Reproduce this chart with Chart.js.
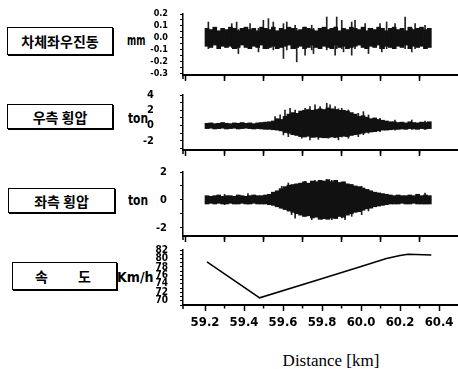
<!DOCTYPE html>
<html>
<head>
<meta charset="utf-8">
<script src="https://cdn.jsdelivr.net/npm/chart.js@4/dist/chart.umd.min.js"></script>
<style>
  body { margin: 0; background: #fff; width: 458px; height: 369px; overflow: hidden; position: relative; }
  canvas { position: absolute; left: 0; }
  .box { position: absolute; border: 1.5px solid #000; box-shadow: 1px 1px 0 #000;
         font: bold 14px "Noto Sans CJK KR", sans-serif; color: #000;
         display: flex; align-items: center; justify-content: center; box-sizing: border-box; }
  .unit { position: absolute; font: bold 14px "DejaVu Sans Condensed", "Liberation Sans Narrow", "Liberation Sans", sans-serif; color: #000;
          line-height: 14px; transform-origin: left center; }
  .xtitle { position: absolute; left: 0; width: 662px; top: 351px; text-align: center;
            font: 17px "Liberation Serif", serif; color: #000; }
</style>
</head>
<body>
<div class="box" style="left:7px;top:27px;width:106px;height:28px;">차체좌우진동</div>
<div class="box" style="left:7px;top:104px;width:106px;height:25px;">우측 횡압</div>
<div class="box" style="left:8px;top:188px;width:107px;height:25px;">좌측 횡압</div>
<div class="box" style="left:12px;top:262px;width:105px;height:28px;">
  <span style="position:absolute;left:22px;">속</span><span style="position:absolute;left:65px;">도</span>
</div>
<div class="unit" style="left:127px;top:33px;transform:scaleX(0.7);">mm</div>
<div class="unit" style="left:128px;top:111px;transform:scaleX(0.85);">ton</div>
<div class="unit" style="left:128px;top:193px;transform:scaleX(0.85);">ton</div>
<div class="unit" style="left:117px;top:270px;">Km/h</div>
<div class="xtitle">Distance [km]</div>

<canvas id="c1" width="458" height="90" style="top:0px"></canvas>
<canvas id="c2" width="458" height="80" style="top:85px"></canvas>
<canvas id="c3" width="458" height="90" style="top:160px"></canvas>
<canvas id="c4" width="458" height="100" style="top:238px"></canvas>

<script>
// distance bins (km) where the envelopes of the recorded signals were read
const binKm = [59.21,59.23,59.25,59.27,59.29,59.31,59.33,59.35,59.37,59.39,
  59.41,59.43,59.45,59.47,59.49,59.51,59.53,59.55,59.57,59.59,
  59.61,59.63,59.65,59.67,59.69,59.71,59.73,59.75,59.77,59.79,
  59.81,59.83,59.85,59.87,59.89,59.91,59.93,59.95,59.97,59.99,
  60.01,60.03,60.05,60.07,60.09,60.11,60.13,60.15,60.17,60.19,
  60.21,60.23,60.25,60.27,60.29,60.31,60.33,60.35];

// 차체좌우진동 (mm)
const p1Hi = [0.08,0.07,0.09,0.06,0.08,0.07,0.09,0.08,0.06,0.08,
  0.09,0.07,0.08,0.06,0.09,0.08,0.07,0.09,0.06,0.08,
  0.07,0.09,0.08,0.06,0.07,0.09,0.08,0.07,0.06,0.08,
  0.09,0.07,0.08,0.09,0.06,0.08,0.07,0.09,0.08,0.07,
  0.09,0.06,0.08,0.07,0.09,0.08,0.06,0.08,0.09,0.07,
  0.08,0.06,0.09,0.07,0.08,0.09,0.07,0.08];
const p1Lo = [-0.07,-0.08,-0.06,-0.09,-0.07,-0.08,-0.07,-0.09,-0.08,-0.06,
  -0.08,-0.09,-0.07,-0.08,-0.06,-0.09,-0.08,-0.07,-0.09,-0.08,
  -0.07,-0.06,-0.09,-0.08,-0.07,-0.09,-0.08,-0.06,-0.08,-0.09,
  -0.07,-0.08,-0.09,-0.06,-0.08,-0.07,-0.09,-0.08,-0.07,-0.06,
  -0.08,-0.09,-0.07,-0.08,-0.06,-0.09,-0.07,-0.08,-0.09,-0.07,
  -0.08,-0.06,-0.09,-0.07,-0.08,-0.07,-0.09,-0.08];
const p1SpikeKm = [59.217,59.337,59.362,59.371,59.431,59.474,59.499,59.525,59.55,59.602,
  59.619,59.662,59.67,59.713,59.747,59.756,59.824,59.867,59.875,59.901,
  59.91,59.952,59.969,60.021,60.038,60.097,60.106,60.131,60.174,60.226,
  60.26,60.277,60.328];
const p1SpikeLo = [-0.09,-0.08,-0.09,-0.131,-0.08,-0.117,-0.09,-0.09,-0.1,-0.172,
  -0.1,-0.09,-0.2,-0.144,-0.1,-0.131,-0.1,-0.144,-0.09,-0.09,
  -0.117,-0.144,-0.09,-0.09,-0.131,-0.09,-0.117,-0.09,-0.09,-0.09,
  -0.117,-0.09,-0.09];
const p1SpikeHi = [0.133,0.119,0.133,0.07,0.119,0.08,0.147,0.161,0.133,0.119,
  0.133,0.106,0.08,0.09,0.106,0.08,0.175,0.09,0.175,0.147,
  0.08,0.133,0.147,0.119,0.08,0.119,0.08,0.133,0.119,0.175,
  0.08,0.119,0.106];

// 우측 횡압 (ton)
const p2Hi = [0.3,0.35,0.25,0.3,0.4,0.3,0.25,0.35,0.3,0.4,0.3,0.35,0.25,0.35,0.4,0.45,
  0.5,0.6,0.9,0.8,1.2,1.5,1.7,1.6,
  1.9,2.0,2.1,2.0,2.1,2.2,2.1,2.3,2.2,2.1,2.0,2.0,1.9,
  1.7,1.5,1.2,1.3,1.1,0.9,1.0,0.8,0.7,0.6,0.5,0.5,0.4,0.45,0.35,0.5,0.4,0.35,0.45,0.4,0.5];
const p2Lo = [-0.4,-0.35,-0.45,-0.4,-0.35,-0.45,-0.4,-0.35,-0.45,-0.4,-0.35,-0.4,-0.45,-0.4,-0.45,-0.5,
  -0.5,-0.55,-0.6,-0.7,-0.9,-1.0,-1.2,-1.3,
  -1.45,-1.5,-1.4,-1.55,-1.5,-1.55,-1.6,-1.55,-1.5,-1.55,-1.45,-1.4,-1.45,
  -1.3,-1.2,-1.1,-1.0,-0.9,-0.85,-0.8,-0.7,-0.6,-0.6,-0.55,-0.5,-0.5,-0.45,-0.5,-0.4,-0.45,-0.5,-0.4,-0.45,-0.4];
const p2SpikeKm = [59.559,59.585,59.602,59.61,59.627,59.636,59.662,59.696,59.713,59.738,
  59.764,59.781,59.79,59.824,59.832,59.841,59.867,59.884,59.901,59.935,
  59.986,60.012,60.038,60.097,60.174,60.26,60.328];
const p2SpikeLo = [-0.5,-0.6,-1.23,-0.9,-1.45,-1.0,-1.2,-1.66,-1.3,-1.88,
  -1.5,-1.8,-1.5,-1.6,-1.66,-1.5,-1.6,-1.88,-1.5,-1.66,
  -1.45,-1.2,-1.0,-0.8,-0.6,-0.5,-0.5];
const p2SpikeHi = [1.17,1.4,0.8,2.04,1.0,2.26,2.04,1.5,2.26,2.47,
  2.7,2.0,2.47,2.92,2.3,2.7,2.47,2.2,2.26,2.04,
  1.6,1.82,1.39,0.95,0.73,0.73,0.6];

// 좌측 횡압 (ton)
const p3Hi = [0.3,0.25,0.3,0.35,0.25,0.3,0.3,0.25,0.35,0.3,0.25,0.3,0.35,0.3,0.3,
  0.35,0.4,0.55,0.65,0.8,0.95,1.05,1.1,1.15,
  1.2,1.3,1.2,1.35,1.3,1.4,1.35,1.45,1.3,1.4,1.25,1.3,1.15,1.1,
  1.0,0.95,0.85,0.75,0.65,0.55,0.5,0.45,0.4,0.35,0.3,0.35,0.3,0.3,0.35,0.3,0.4,0.3,0.35,0.3];
const p3Lo = [-0.3,-0.25,-0.3,-0.25,-0.3,-0.3,-0.25,-0.3,-0.3,-0.25,-0.3,-0.3,-0.25,-0.3,-0.3,
  -0.3,-0.35,-0.4,-0.5,-0.6,-0.7,-0.8,-0.9,-1.0,
  -1.1,-1.2,-1.15,-1.3,-1.25,-1.4,-1.35,-1.4,-1.3,-1.35,-1.2,-1.25,-1.1,-1.0,
  -0.9,-0.85,-0.75,-0.65,-0.6,-0.5,-0.45,-0.4,-0.35,-0.3,-0.3,-0.3,-0.25,-0.3,-0.3,-0.25,-0.3,-0.3,-0.3,-0.3];
const p3SpikeKm = [59.3,59.42,59.593,59.627,59.644,59.662,59.713,59.747,59.764,59.798,
  59.824,59.85,59.901,59.918,59.952,60.003,60.038,60.328];
const p3SpikeLo = [-0.35,-0.3,-0.6,-0.8,-1.07,-1.31,-1.1,-1.43,-1.2,-1.4,
  -1.3,-1.43,-1.3,-1.43,-1.19,-1.07,-0.8,-0.3];
const p3SpikeHi = [0.4,0.45,0.97,1.21,0.9,1.1,1.33,1.2,1.4,1.33,
  1.45,1.4,1.21,1.2,1.1,0.97,0.73,0.49];

// 속도 (Km/h)
const speedKm = [59.21,59.48,59.81,60.0,60.13,60.2,60.24,60.36];
const speedVal = [79.2,70.7,75.4,78.1,80.0,80.7,81.0,80.8];

// axis ticks
const xMajorTicks = [59.2,59.4,59.6,59.8,60.0,60.2,60.4];
const xMinorTicks = [59.3,59.5,59.7,59.9,60.1,60.3];
const y1Ticks = [0.2,0.15,0.1,0.05,0,-0.05,-0.1,-0.15,-0.2,-0.25,-0.3];
const y1Labels = [0.2,0.1,0,-0.1,-0.2,-0.3];
const y2Ticks = [4,3,2,1,0,-1,-2,-3];
const y2Labels = [4,2,0,-2];
const y3Ticks = [2,1,0,-1,-2];
const y3Labels = [2,0,-2];
const y4Ticks = [82,81,80,79,78,77,76,75,74,73,72,71,70,69];
const y4Labels = [82,80,78,76,74,72,70];

const narrow = '"DejaVu Sans Condensed", "Liberation Sans Narrow", "Liberation Sans", sans-serif';

// short ticks between the labelled distances, plus the axis corner stub
const minorTicks = {
    id: "minorTicks",
    afterDraw(chart) {
        const sx = chart.scales.x;
        const b = chart.chartArea.bottom;
        const ctx = chart.ctx;
        ctx.save();
        ctx.strokeStyle = "#000";
        ctx.lineWidth = 1.5;
        xMinorTicks.forEach(v => {
            const px = sx.getPixelForValue(v);
            ctx.beginPath();
            ctx.moveTo(px, b);
            ctx.lineTo(px, b + 3.5);
            ctx.stroke();
        });
        ctx.beginPath();
        ctx.moveTo(chart.chartArea.left, b);
        ctx.lineTo(chart.chartArea.left, b + 4);
        ctx.stroke();
        ctx.restore();
    }
};

function axes(o) {
    return {
        x: {
            type: "linear", min: 59.087, max: 60.497, offset: false,
            afterBuildTicks: s => { s.ticks = xMajorTicks.map(v => ({ value: v })); },
            ticks: {
                display: o.xLabels, autoSkip: false, maxRotation: 0, padding: 4, color: "#000",
                font: { family: narrow, size: 13, weight: "bold" },
                callback: v => v.toFixed(1)
            },
            grid: { drawOnChartArea: false, drawTicks: true, tickLength: 6, tickWidth: 1.5, tickColor: "#000" },
            border: { display: true, color: "#000", width: 2 },
            afterFit: s => { s.height = o.xh; s.paddingLeft = 0; s.paddingRight = 0; }
        },
        y: {
            min: o.min, max: o.max,
            afterBuildTicks: s => { s.ticks = o.ticks.map(v => ({ value: v })); },
            ticks: {
                autoSkip: false, padding: o.pad, color: "#000",
                font: { family: narrow, size: o.fs, weight: "bold" },
                callback: v => o.labels.includes(v) ? o.fmt(v) : ""
            },
            grid: { drawOnChartArea: false, drawTicks: true, tickLength: 3, tickWidth: 1, tickColor: "#000" },
            border: { display: true, color: "#000", width: 1.5 },
            // label padding pushes the labels left only, not the plot area down
            afterFit: s => { s.width = 60; s.paddingTop = 0; s.paddingBottom = 0; }
        }
    };
}

function noiseChart(id, hi, lo, spKm, spLo, spHi, o) {
    const core = binKm.map((x, i) => ({ x: x, y: [lo[i], hi[i]] }));
    const spikes = spKm.map((x, i) => ({ x: x, y: [spLo[i], spHi[i]] }));
    return new Chart(document.getElementById(id), {
        type: "bar",
        data: {
            datasets: [
                { data: core, backgroundColor: "#111", barThickness: 4, grouped: false, borderWidth: 0 },
                { data: spikes, backgroundColor: "#222", barThickness: 1, grouped: false, borderWidth: 0 }
            ]
        },
        options: {
            responsive: false, animation: false, devicePixelRatio: 1,
            layout: { padding: { top: o.top, left: 123, right: 0, bottom: 0 } },
            plugins: { legend: { display: false }, tooltip: { enabled: false } },
            scales: axes(o)
        },
        plugins: [minorTicks]
    });
}

noiseChart("c1", p1Hi, p1Lo, p1SpikeKm, p1SpikeLo, p1SpikeHi, {
    top: 14, xh: 15, min: -0.31, max: 0.2, ticks: y1Ticks, labels: y1Labels,
    pad: 12, fs: 9, fmt: v => v.toFixed(1), xLabels: false
});
noiseChart("c2", p2Hi, p2Lo, p2SpikeKm, p2SpikeLo, p2SpikeHi, {
    top: 10, xh: 15, min: -3.2, max: 4, ticks: y2Ticks, labels: y2Labels,
    pad: 26, fs: 11, fmt: v => String(v), xLabels: false
});
noiseChart("c3", p3Hi, p3Lo, p3SpikeKm, p3SpikeLo, p3SpikeHi, {
    top: 12, xh: 14, min: -2.6, max: 2, ticks: y3Ticks, labels: y3Labels,
    pad: 13, fs: 11, fmt: v => String(v), xLabels: false
});

new Chart(document.getElementById("c4"), {
    type: "line",
    data: {
        datasets: [{
            data: speedKm.map((x, i) => ({ x: x, y: speedVal[i] })),
            borderColor: "#000", borderWidth: 1.5, pointRadius: 0, tension: 0, fill: false
        }]
    },
    options: {
        responsive: false, animation: false, devicePixelRatio: 1,
        layout: { padding: { top: 12, left: 123, right: 0, bottom: 0 } },
        plugins: { legend: { display: false }, tooltip: { enabled: false } },
        scales: axes({
            xh: 33, min: 69, max: 82, ticks: y4Ticks, labels: y4Labels,
            pad: 12, fs: 10, fmt: v => String(v), xLabels: true
        })
    },
    plugins: [minorTicks]
});
</script>
</body>
</html>
